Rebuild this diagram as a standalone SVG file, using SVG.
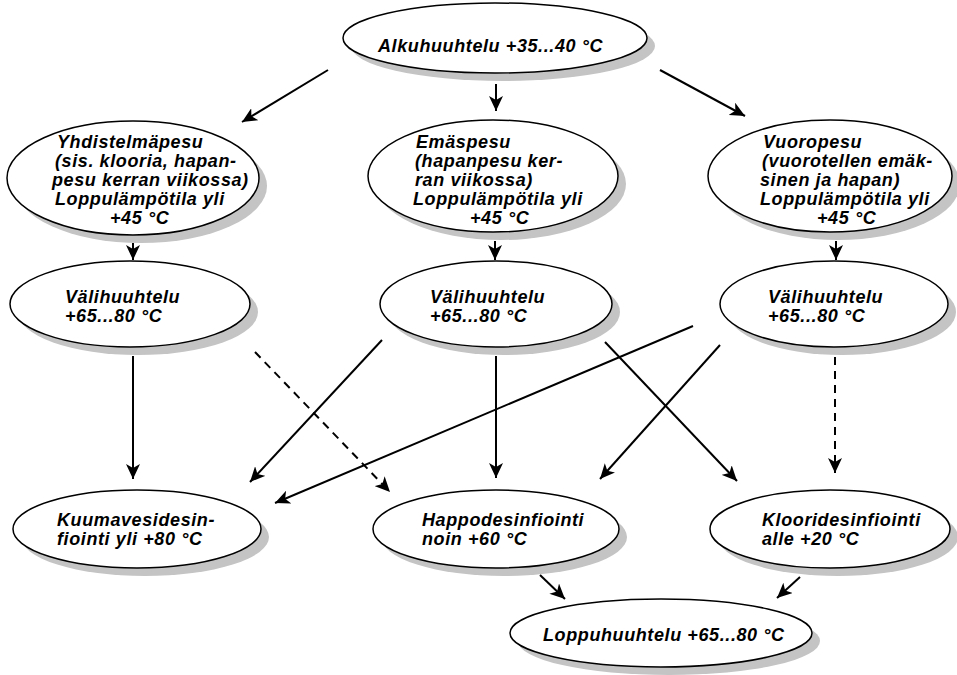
<svg xmlns="http://www.w3.org/2000/svg" width="957" height="675" viewBox="0 0 957 675">
<style>
.t{font-family:"Liberation Sans",Arial,sans-serif;font-weight:bold;font-style:italic;font-size:18px;letter-spacing:0.6px;fill:#000}
.e{fill:#fff;stroke:#000;stroke-width:1.5}
.c{stroke:#000;stroke-width:2;fill:none}
.d{stroke:#000;stroke-width:2;fill:none;stroke-dasharray:8,6}
</style>
<defs>
<marker id="ah" markerUnits="userSpaceOnUse" markerWidth="16" markerHeight="14" refX="15" refY="7" orient="auto">
<path d="M0,0 L15,7 L0,14 L4,7 z" fill="#000"/>
</marker>
</defs>
<rect width="957" height="675" fill="#fff"/>
<g id="n_alku">
<ellipse fill="#c4c4c4" cx="503" cy="46" rx="152" ry="35"/>
<ellipse class="e" cx="495" cy="38" rx="152" ry="35"/>
<text class="t" x="378" y="52">Alkuhuuhtelu +35...40 °C</text>
</g>
<g id="n_yhd">
<ellipse fill="#c4c4c4" cx="141" cy="186" rx="126" ry="57"/>
<ellipse class="e" cx="133" cy="178" rx="126" ry="57"/>
<text class="t"><tspan x="57" y="148">Yhdistelmäpesu</tspan><tspan x="55" y="167">(sis. klooria, hapan-</tspan><tspan x="52" y="186">pesu kerran viikossa)</tspan><tspan x="55" y="205">Loppulämpötila yli</tspan><tspan x="110" y="224">+45 °C</tspan></text>
</g>
<g id="n_emas">
<ellipse fill="#c4c4c4" cx="501" cy="184" rx="125" ry="56"/>
<ellipse class="e" cx="493" cy="176" rx="125" ry="56"/>
<text class="t"><tspan x="416" y="148">Emäspesu</tspan><tspan x="415" y="167">(hapanpesu ker-</tspan><tspan x="415" y="186">ran viikossa)</tspan><tspan x="413" y="205">Loppulämpötila yli</tspan><tspan x="470" y="224">+45 °C</tspan></text>
</g>
<g id="n_vuoro">
<ellipse fill="#c4c4c4" cx="838" cy="184" rx="122" ry="56"/>
<ellipse class="e" cx="830" cy="176" rx="122" ry="56"/>
<text class="t"><tspan x="763" y="148">Vuoropesu</tspan><tspan x="762" y="167">(vuorotellen emäk-</tspan><tspan x="760" y="186">sinen ja hapan)</tspan><tspan x="760" y="205">Loppulämpötila yli</tspan><tspan x="817" y="224">+45 °C</tspan></text>
</g>
<g id="n_vali1">
<ellipse fill="#c4c4c4" cx="138" cy="312" rx="120" ry="43"/>
<ellipse class="e" cx="130" cy="304" rx="120" ry="43"/>
<text class="t"><tspan x="65" y="303">Välihuuhtelu</tspan><tspan x="65" y="322">+65...80 °C</tspan></text>
</g>
<g id="n_vali2">
<ellipse fill="#c4c4c4" cx="504" cy="312" rx="116" ry="43"/>
<ellipse class="e" cx="496" cy="304" rx="116" ry="43"/>
<text class="t"><tspan x="430" y="303">Välihuuhtelu</tspan><tspan x="430" y="322">+65...80 °C</tspan></text>
</g>
<g id="n_vali3">
<ellipse fill="#c4c4c4" cx="842" cy="312" rx="114" ry="43"/>
<ellipse class="e" cx="834" cy="304" rx="114" ry="43"/>
<text class="t"><tspan x="768" y="303">Välihuuhtelu</tspan><tspan x="768" y="322">+65...80 °C</tspan></text>
</g>
<g id="n_kuuma">
<ellipse fill="#c4c4c4" cx="145" cy="537" rx="124" ry="39"/>
<ellipse class="e" cx="137" cy="529" rx="124" ry="39"/>
<text class="t"><tspan x="57" y="526">Kuumavesidesin-</tspan><tspan x="57" y="545">fiointi yli +80 °C</tspan></text>
</g>
<g id="n_happo">
<ellipse fill="#c4c4c4" cx="504" cy="537" rx="123" ry="39"/>
<ellipse class="e" cx="496" cy="529" rx="123" ry="39"/>
<text class="t"><tspan x="422" y="526">Happodesinfiointi</tspan><tspan x="422" y="545">noin +60 °C</tspan></text>
</g>
<g id="n_kloori">
<ellipse fill="#c4c4c4" cx="838" cy="537" rx="120" ry="39"/>
<ellipse class="e" cx="830" cy="529" rx="120" ry="39"/>
<text class="t"><tspan x="762" y="526">Klooridesinfiointi</tspan><tspan x="762" y="545">alle +20 °C</tspan></text>
</g>
<g id="n_loppu">
<ellipse fill="#c4c4c4" cx="669" cy="641" rx="151" ry="34"/>
<ellipse class="e" cx="661" cy="633" rx="151" ry="34"/>
<text class="t" x="543" y="641">Loppuhuuhtelu +65...80 °C</text>
</g>
<g id="connectors">
<line class="c" x1="328" y1="70" x2="242" y2="122" marker-end="url(#ah)"/>
<line class="c" x1="496" y1="84" x2="496" y2="111" marker-end="url(#ah)"/>
<line class="c" x1="660" y1="70" x2="745" y2="116" marker-end="url(#ah)"/>
<line class="c" x1="133" y1="243" x2="133" y2="260" marker-end="url(#ah)"/>
<line class="c" x1="495" y1="241" x2="495" y2="260" marker-end="url(#ah)"/>
<line class="c" x1="836" y1="241" x2="836" y2="260" marker-end="url(#ah)"/>
<line class="c" x1="133" y1="356" x2="133" y2="479" marker-end="url(#ah)"/>
<line class="d" x1="255" y1="352" x2="390" y2="492" marker-end="url(#ah)"/>
<line class="c" x1="382" y1="340" x2="250" y2="482" marker-end="url(#ah)"/>
<line class="c" x1="693" y1="326" x2="275" y2="503" marker-end="url(#ah)"/>
<line class="c" x1="496" y1="356" x2="496" y2="478" marker-end="url(#ah)"/>
<line class="c" x1="605" y1="342" x2="737" y2="481" marker-end="url(#ah)"/>
<line class="c" x1="720" y1="345" x2="600" y2="479" marker-end="url(#ah)"/>
<line class="d" x1="835" y1="357" x2="835" y2="473" marker-end="url(#ah)"/>
<line class="c" x1="540" y1="575" x2="565" y2="599" marker-end="url(#ah)"/>
<line class="c" x1="800" y1="577" x2="777" y2="598" marker-end="url(#ah)"/>
</g>
</svg>
